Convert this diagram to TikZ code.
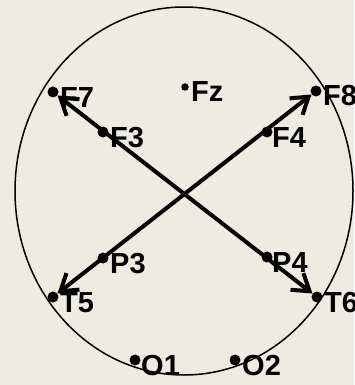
\documentclass[tikz,border=0pt]{standalone}
\usepackage{fontspec}
\setmainfont{Liberation Sans}
\usetikzlibrary{arrows.meta}
\definecolor{bgtan}{HTML}{EEECE1}
\begin{document}
\begin{tikzpicture}[x=1pt,y=-1pt,
  elec/.style={circle,fill=black,inner sep=0pt,minimum size=11pt},
  small elec/.style={elec,minimum size=7.5pt},
  lbl/.style={inner sep=0pt,anchor=base west,font=\fontsize{29}{31}\selectfont\bfseries},
  link/.style={line width=4pt,{Straight Barb[length=16pt,width=21pt]}-{Straight Barb[length=16pt,width=21pt]}}]
\fill[bgtan] (0,0) rectangle (354,385);
\useasboundingbox (0,0) rectangle (354,385);
\draw[line width=1.5pt] (184,191) ellipse [x radius=169, y radius=184];
% electrodes
\node[elec] (F7) at (53,92) {};
\node[small elec] (Fz) at (185,87) {};
\node[elec] (F8) at (316,91) {};
\node[elec] (F3) at (103,132) {};
\node[elec] (F4) at (267,132) {};
\node[elec] (P3) at (103,258) {};
\node[elec] (P4) at (267,257) {};
\node[elec] (T5) at (53,297) {};
\node[elec] (T6) at (317,297) {};
\node[elec] (O1) at (135,360) {};
\node[elec] (O2) at (235,360) {};
% labels
\node[lbl] (F7l) at (60,107) {F7};
\node[lbl] (Fzl) at (191,102) {Fz};
\node[lbl] (F8l) at (323,106) {F8};
\node[lbl] (F3l) at (110,147) {F3};
\node[lbl] (F4l) at (272,147) {F4};
\node[lbl] (P3l) at (110,273) {P3};
\node[lbl] (P4l) at (272,272) {P4};
\node[lbl] (T5l) at (60,312) {T5};
\node[lbl] (T6l) at (324,312) {T6};
\node[lbl] (O1l) at (141,375) {O1};
\node[lbl] (O2l) at (242,375) {O2};
% arrows
\draw[link] (F7) -- (T6);
\draw[link] (T5) -- (F8);
\end{tikzpicture}
\end{document}
